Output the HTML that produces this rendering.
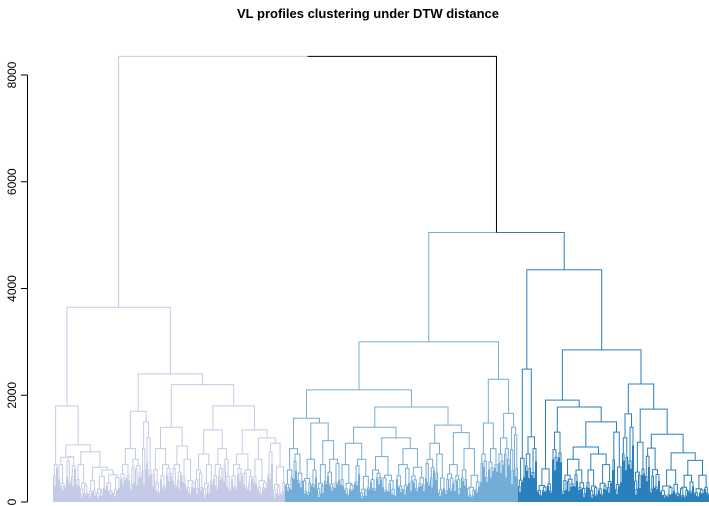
<!DOCTYPE html>
<html><head><meta charset="utf-8"><style>
html,body{margin:0;padding:0;background:#fff;width:709px;height:506px;overflow:hidden}
svg{display:block;font-family:"Liberation Sans",sans-serif}
</style></head><body>
<svg id="chart" width="709" height="506" viewBox="0 0 709 506">
<text x="368" y="18" text-anchor="middle" font-weight="bold" font-size="13">VL profiles clustering under DTW distance</text>
<g id="axis"></g>
<g id="tree" fill="none" stroke-width="1"></g>
</svg>
<script>
// y-axis tick values
const yTicks = [0, 2000, 4000, 6000, 8000];
// tree: [height, left, right]; bush: ["b", leafCount, height]
const A1 = [1800, ["b",5,700], [1070, [840, ["b",8,700], ["b",10,850]], [940, ["b",12,700], [650, ["b",8,400], ["b",24,600]]]]];
const A2a = [1700, [1000, ["b",10,700], ["b",12,800]], [1500, ["b",4,1000], ["b",6,1200]]];
const A2b = [2200, [1400, [1000, ["b",8,600], ["b",12,700]], [1050, ["b",10,700], ["b",13,800]]],
  [1800, [1350, [900, ["b",8,600], ["b",10,700]], [1000, ["b",10,700], ["b",8,800]]], [1350, [900, ["b",12,700], ["b",10,600]], [1200, ["b",14,800], ["b",18,1100]]]]];
const clusterA = [3650, A1, [2400, A2a, A2b]];
const B1a = [1570, [1000, ["b",8,600], ["b",10,900]], [1480, ["b",14,800], [1150, ["b",10,700], ["b",13,800]]]];
const B1b = [1780, [1400, [1100, ["b",14,700], ["b",16,800]], [1200, [850, ["b",12,600], ["b",14,500]], [1000, ["b",14,700], ["b",15,650]]]],
  [1440, [1100, ["b",10,800], ["b",10,900]], [1300, ["b",16,700], ["b",19,1000]]]];
const B2 = [2300, [1480, ["b",8,900], ["b",10,1000]], [1660, [1200, ["b",6,900], ["b",6,1000]], ["b",8,1400]]];
const clusterB = [3000, [2100, B1a, B1b], B2];
const C1 = [2490, ["b",7,820], [1220, ["b",6,900], ["b",6,1000]]];
const C2a = [1910, ["b",15,620], [1780, ["b",10,1310], [1500, [1030, [800, ["b",12,500], ["b",12,600]], [900, ["b",12,600], ["b",14,700]]], ["b",10,1310]]]];
const C2b = [2210, [1650, ["b",6,1200], ["b",6,1400]], [1740, ["b",11,1120], [1270, ["b",15,1010], [920, ["b",20,600], [780, ["b",14,500], ["b",15,500]]]]]];
const clusterC = [4350, C1, [2850, C2a, C2b]];
const rootHeight = 8350;
const bcHeight = 5050;
const clusterColors = ["#c3cbe6", "#74acd8", "#2a7fbd"];
// fixed texture patterns for unreadable low-level bushes
const splitPattern = [0.5,0.35,0.6,0.45,0.3,0.55,0.4,0.65];
const dropPattern = [0.7,0.85,0.55,0.9,0.6,0.75,0.8,0.5];

const NS = "http://www.w3.org/2000/svg";
const x0 = 53, x1 = 709, yBase = 502, pxPerUnit = 427/8000;
const Y = v => yBase - v * pxPerUnit;
function count(n){ if(n[0]==="b") return n[1]; return count(n[1])+count(n[2]); }
const total = count(clusterA)+count(clusterB)+count(clusterC);
const X = i => x0 + (i+0.5)*(x1-x0)/total;
let leafIdx = 0, pi = 0;
const paths = {};
function seg(color, d){ paths[color] = (paths[color]||"") + d; }
function expandBush(n, h){
  if(n<=1) return {leaf:true};
  const s = splitPattern[pi % 8], f1 = dropPattern[pi % 8], f2 = dropPattern[(pi+3) % 8]; pi++;
  const a = Math.min(n-1, Math.max(1, Math.round(n*s)));
  return [h, expandBush(a, h*f1), expandBush(n-a, h*f2)];
}
function layout(n, color){
  if(n.leaf){ const x = X(leafIdx++); return {x, h:0}; }
  if(n[0]==="b") return layout(expandBush(n[1], n[2]), color);
  const l = layout(n[1], color), r = layout(n[2], color), h = n[0];
  const y = Y(h).toFixed(1);
  seg(color, `M${l.x.toFixed(1)},${Y(l.h).toFixed(1)}V${y}H${r.x.toFixed(1)}V${Y(r.h).toFixed(1)}`);
  return {x:(l.x+r.x)/2, h};
}
const a = layout(clusterA, clusterColors[0]);
const b = layout(clusterB, clusterColors[1]);
const c = layout(clusterC, clusterColors[2]);
const bcX = (b.x+c.x)/2, topX = (a.x+bcX)/2;
seg(clusterColors[1], `M${b.x},${Y(b.h)}V${Y(bcHeight)}H${bcX}`);
seg(clusterColors[2], `M${bcX},${Y(bcHeight)}H${c.x}V${Y(c.h)}`);
seg(clusterColors[0], `M${a.x},${Y(a.h)}V${Y(rootHeight)}H${topX}`);
seg("#000000", `M${topX},${Y(rootHeight)}H${bcX}V${Y(bcHeight)}`);
const tree = document.getElementById("tree");
const names = {"#c3cbe6":"cluster-1-branches","#74acd8":"cluster-2-branches","#2a7fbd":"cluster-3-branches","#000000":"root-branches"};
for(const col in paths){
  const p = document.createElementNS(NS,"path");
  p.setAttribute("d", paths[col]); p.setAttribute("stroke", col);
  
  
  tree.appendChild(p);
}
const axis = document.getElementById("axis");
const al = document.createElementNS(NS,"path");
al.setAttribute("d", `M27.5,${Y(0)}V${Y(8000)}` + yTicks.map(t=>`M21,${Y(t)}H27.5`).join(""));
al.setAttribute("stroke","#000"); al.setAttribute("fill","none");


axis.appendChild(al);
yTicks.forEach(t=>{
  const tx = document.createElementNS(NS,"text");
  tx.setAttribute("transform", `translate(16,${Y(t)}) rotate(-90)`);
  tx.setAttribute("text-anchor","middle"); tx.setAttribute("font-size","12");
  tx.textContent = t;
  
  
  axis.appendChild(tx);
});
</script>
</body></html>
